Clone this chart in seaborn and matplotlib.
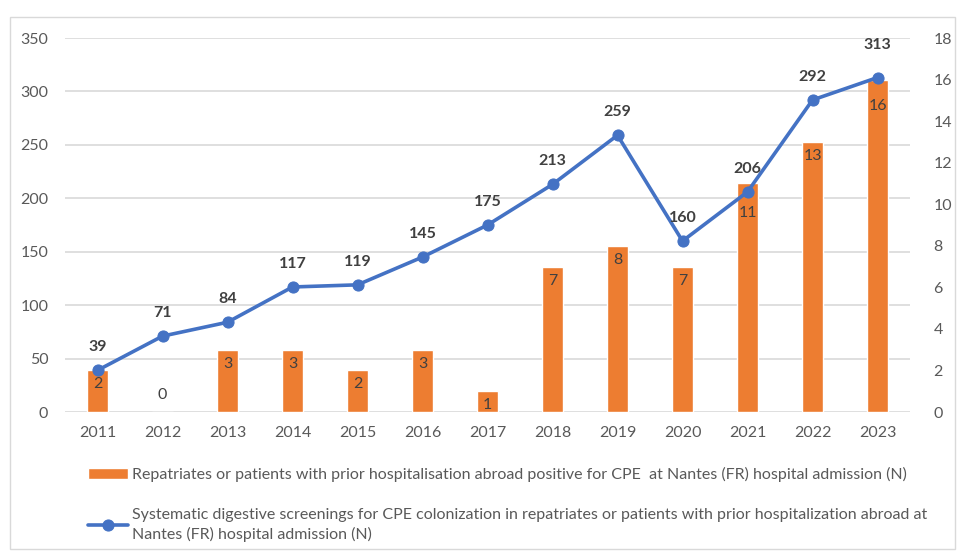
import seaborn as sns
import matplotlib.pyplot as plt
import pandas as pd
from matplotlib.patches import Rectangle

# data
years = ["2011", "2012", "2013", "2014", "2015", "2016", "2017",
         "2018", "2019", "2020", "2021", "2022", "2023"]
positives = [2, 0, 3, 3, 2, 3, 1, 7, 8, 7, 11, 13, 16]
screenings = [39, 71, 84, 117, 119, 145, 175, 213, 259, 160, 206, 292, 313]

bar_label = ("Repatriates or patients with prior hospitalisation abroad positive "
             "for CPE  at Nantes (FR) hospital admission (N)")
line_label = ("Systematic digestive screenings for CPE colonization in repatriates or "
              "patients with prior hospitalization abroad at\nNantes (FR) hospital admission (N)")

df = pd.DataFrame({"year": years, "positives": positives, "screenings": screenings})

sns.set_style("white")
plt.rcParams["font.family"] = ["Lato", "DejaVu Sans"]

orange = "#ED7D31"
blue = "#4472C4"
grid_c = "#D9D9D9"
tick_c = "#595959"
lab_c = "#404040"
fs = 11.5

fig = plt.figure(figsize=(9.67, 5.56), dpi=100)
fig.add_artist(Rectangle((10 / 967, 1 - 549 / 556), 945 / 967, 532 / 556,
                         transform=fig.transFigure, fill=False,
                         edgecolor=grid_c, linewidth=1))

ax = fig.add_axes([65 / 967, 1 - 412 / 556, 845 / 967, 374 / 556])
ax2 = ax.twinx()
ax3 = ax.twinx()

# left axis: gridlines and ticks only
ax.set_ylim(0, 350)
ax.set_yticks(range(0, 351, 50))
ax.grid(axis="y", color=grid_c, linewidth=1.2)
ax.set_xlim(-0.5, len(years) - 0.5)

# bars on the right axis
sns.barplot(data=df, x="year", y="positives", color=orange, width=0.32,
            saturation=1, ax=ax2, label=bar_label)
ax2.set_ylim(0, 18)
ax2.set_yticks(range(0, 19, 2))
bar_off = {"2021": -30, "2023": -26}
for i, v in enumerate(positives):
    off = bar_off.get(years[i], -14) if v > 0 else 17
    ax2.annotate(str(v), (i, v), xytext=(0, off), textcoords="offset pixels",
                 ha="center", va="center", fontsize=fs, color=lab_c)

# line on top, same scale as the left axis
sns.lineplot(data=df, x="year", y="screenings", color=blue, linewidth=2.6,
             marker="o", markersize=8, markeredgecolor=blue, ax=ax3,
             label=line_label, sort=False)
ax3.set_ylim(0, 350)
ax3.set_xlim(-0.5, len(years) - 0.5)
ax3.set_yticks([])
line_off = {"2023": 33}
for i, v in enumerate(screenings):
    ax3.annotate(str(v), (i, v), xytext=(0, line_off.get(years[i], 23)),
                 textcoords="offset pixels", ha="center", va="center",
                 fontsize=fs, fontweight="bold", color=lab_c)

for a in (ax, ax2, ax3):
    for s in a.spines.values():
        s.set_visible(False)
    a.set_xlabel("")
    a.set_ylabel("")
    a.tick_params(length=0, labelsize=fs, labelcolor=tick_c)
    if a.get_legend() is not None:
        a.get_legend().remove()
ax.tick_params(axis="y", pad=12)
ax2.tick_params(axis="y", pad=17)
ax.tick_params(axis="x", pad=10)
ax.set_xticks(range(len(years)))
ax.set_xticklabels(years)
ax.set_zorder(1)
ax2.set_zorder(2)
ax3.set_zorder(3)
ax2.patch.set_visible(False)
ax3.patch.set_visible(False)

h2, l2 = ax2.get_legend_handles_labels()
h3, l3 = ax3.get_legend_handles_labels()
leg = fig.legend(h2 + h3, l2 + l3, loc="upper left",
                 bbox_to_anchor=(80 / 967, 1 - 459 / 556), frameon=False,
                 fontsize=fs, labelcolor=tick_c, handlelength=2.5,
                 handletextpad=0.25, labelspacing=1.6, borderpad=0)
for t in leg.get_texts():
    t.set_linespacing(1.45)

fig.savefig("out.png", dpi=100)
